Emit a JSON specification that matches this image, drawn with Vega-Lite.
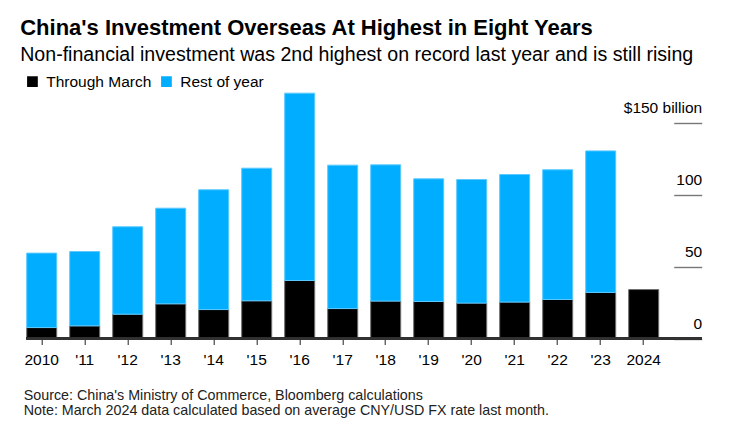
{
  "$schema": "https://vega.github.io/schema/vega-lite/v6.json",
  "autosize": {"type": "none"},
  "padding": {"left": 26.7, "top": 91, "right": 31.3, "bottom": 93.5},
  "width": 675,
  "height": 247.5,
  "background": "white",
  "config": {
    "font": "Liberation Sans",
    "view": {"stroke": null}
  },
  "title": {
    "text": "China's Investment Overseas At Highest in Eight Years",
    "subtitle": "Non-financial investment was 2nd highest on record last year and is still rising",
    "anchor": "start",
    "dx": -3,
    "fontSize": 22,
    "fontWeight": "bold",
    "color": "#000000",
    "subtitleFontSize": 19.6,
    "subtitleColor": "#000000",
    "subtitlePadding": 6,
    "offset": 8
  },
  "data": {
    "values": [
      {"year": "2010", "part": "Through March", "value": 7.6},
      {"year": "2010", "part": "Rest of year", "value": 51.7},
      {"year": "'11", "part": "Through March", "value": 8.8},
      {"year": "'11", "part": "Rest of year", "value": 51.6},
      {"year": "'12", "part": "Through March", "value": 16.9},
      {"year": "'12", "part": "Rest of year", "value": 60.7},
      {"year": "'13", "part": "Through March", "value": 24.1},
      {"year": "'13", "part": "Rest of year", "value": 66.4},
      {"year": "'14", "part": "Through March", "value": 20.1},
      {"year": "'14", "part": "Rest of year", "value": 83.2},
      {"year": "'15", "part": "Through March", "value": 26.2},
      {"year": "'15", "part": "Rest of year", "value": 92.1},
      {"year": "'16", "part": "Through March", "value": 40.3},
      {"year": "'16", "part": "Rest of year", "value": 130.1},
      {"year": "'17", "part": "Through March", "value": 20.8},
      {"year": "'17", "part": "Rest of year", "value": 99.6},
      {"year": "'18", "part": "Through March", "value": 26.0},
      {"year": "'18", "part": "Rest of year", "value": 94.6},
      {"year": "'19", "part": "Through March", "value": 25.7},
      {"year": "'19", "part": "Rest of year", "value": 85.2},
      {"year": "'20", "part": "Through March", "value": 24.6},
      {"year": "'20", "part": "Rest of year", "value": 85.8},
      {"year": "'21", "part": "Through March", "value": 25.3},
      {"year": "'21", "part": "Rest of year", "value": 88.6},
      {"year": "'22", "part": "Through March", "value": 27.1},
      {"year": "'22", "part": "Rest of year", "value": 90.1},
      {"year": "'23", "part": "Through March", "value": 32.0},
      {"year": "'23", "part": "Rest of year", "value": 98.3},
      {"year": "2024", "part": "Through March", "value": 34.0}
    ]
  },
  "layer": [
    {
      "mark": {"type": "bar", "strokeWidth": 1},
      "encoding": {
        "x": {
          "field": "year",
          "type": "nominal",
          "sort": null,
          "scale": {"range": [0, 632], "paddingInner": 0.302, "paddingOuter": 0},
          "axis": {
            "title": ["Source: China's Ministry of Commerce, Bloomberg calculations", "Note: March 2024 data calculated based on average CNY/USD FX rate last month."],
            "titleAnchor": "start",
            "titleAlign": "left",
            "titleBaseline": "alphabetic",
            "titleX": -3.5,
            "titleY": 61,
            "titleFontSize": 14.3,
            "titleFontWeight": "normal",
            "titleColor": "#222222",
            "titleLineHeight": 15,
            "domain": false,
            "ticks": true,
            "tickColor": "#222222",
            "tickSize": 6,
            "tickWidth": 1,
            "labelAngle": 0,
            "labelFontSize": 15.5,
            "labelColor": "#000000",
            "labelPadding": 8
          }
        },
        "y": {
          "field": "value",
          "type": "quantitative",
          "stack": "zero",
          "scale": {"domain": [0, 171.9], "nice": false},
          "axis": {
            "orient": "right",
            "values": [0, 50, 100, 150],
            "offset": -28,
            "domain": false,
            "grid": false,
            "tickSize": 28,
            "tickColor": "#777777",
            "tickWidth": 1.4,
            "labelAlign": "right",
            "labelBaseline": "alphabetic",
            "labelPadding": 0,
            "labelOffset": -10,
            "labelFontSize": 15.5,
            "labelColor": "#000000",
            "labelExpr": "datum.value == 150 ? '$150 billion' : datum.label",
            "title": null
          }
        },
        "color": {
          "field": "part",
          "type": "nominal",
          "sort": ["Through March", "Rest of year"],
          "scale": {"domain": ["Through March", "Rest of year"], "range": ["#000000", "#00adff"]},
          "legend": {
            "title": null,
            "orient": "none",
            "legendX": -2,
            "legendY": -17.5,
            "direction": "horizontal",
            "symbolType": "square",
            "symbolSize": 115,
            "symbolStrokeWidth": 0,
            "labelFontSize": 15.5,
            "labelColor": "#000000",
            "columnPadding": 7,
            "labelOffset": 6
          }
        },
        "stroke": {
          "field": "part",
          "type": "nominal",
          "scale": {"domain": ["Through March", "Rest of year"], "range": ["#6f6f6f", "#5cc9ff"]},
          "legend": null
        },
        "order": {"field": "part", "sort": "descending"}
      }
    },
    {
      "mark": {"type": "rule", "color": "#333333", "strokeWidth": 1.5},
      "encoding": {"y": {"datum": 0}}
    }
  ]
}
